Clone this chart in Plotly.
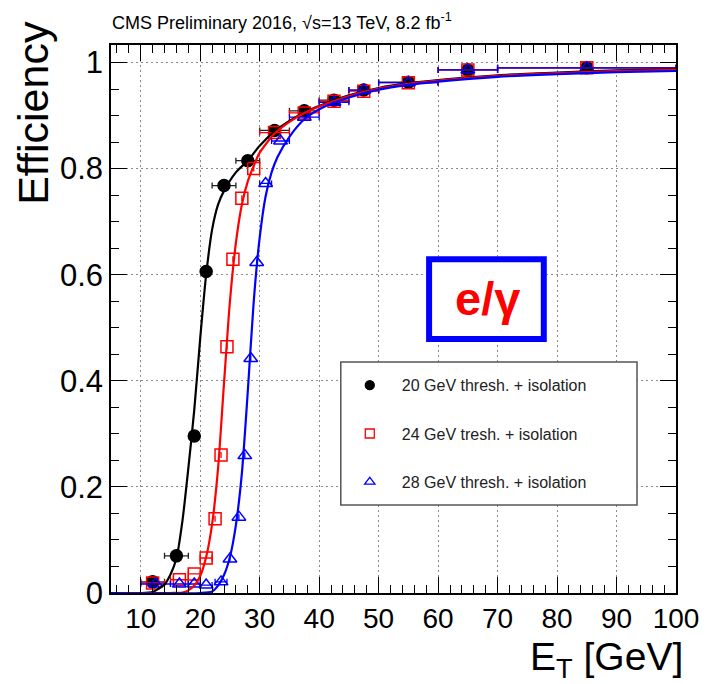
import plotly.graph_objects as go

# ---------------- data ----------------
# 20 GeV threshold + isolation (black)
x_20 = [12, 16, 19, 21, 24, 28, 32.5, 37.5, 42.5, 47.5, 55, 65, 85]
y_20 = [0.021, 0.07, 0.296, 0.606, 0.768, 0.815, 0.872, 0.909, 0.929, 0.948, 0.963, 0.986, 0.99]
xe_20 = [2, 2, 0, 0, 2, 2, 2.5, 2.5, 2.5, 2.5, 5, 5, 15]

# 24 GeV threshold + isolation (red)
x_24 = [12, 16.5, 19, 21, 22.5, 23.5, 24.5, 25.5, 27, 29, 32.5, 37.5, 42.5, 47.5, 55, 65, 85]
y_24 = [0.019, 0.025, 0.036, 0.066, 0.14, 0.26, 0.464, 0.629, 0.744, 0.8, 0.868, 0.905, 0.927, 0.946, 0.962, 0.986, 0.99]
xe_24 = [2, 1.5, 1, 1, 0, 0, 0, 0, 0, 0, 2.5, 2.5, 2.5, 2.5, 5, 5, 15]

# 28 GeV threshold + isolation (blue)
x_28 = [12.5, 16.5, 19, 21, 23.5, 25, 26.5, 27.5, 28.5, 29.5, 31, 33.5, 37.5, 42.5, 47.5, 55, 65, 85]
y_28 = [0.017, 0.017, 0.017, 0.015, 0.021, 0.064, 0.143, 0.259, 0.442, 0.623, 0.772, 0.852, 0.897, 0.925, 0.948, 0.962, 0.986, 0.99]
xe_28 = [2.5, 1.5, 1, 1, 1, 0, 0, 0, 0, 0, 1, 1.5, 2.5, 2.5, 2.5, 5, 5, 15]

# fitted turn-on curves
fx_20 = [5, 10, 12, 13, 14, 15, 16, 17, 18, 19, 20, 21, 22, 23, 24, 26, 28, 30, 32.5, 35, 37.5, 40, 45, 50, 55, 60, 70, 80, 90, 100]
fy_20 = [0.0, 0.0, 0.002, 0.008, 0.016, 0.035, 0.065, 0.135, 0.235, 0.345, 0.48, 0.6, 0.685, 0.732, 0.758, 0.793, 0.815, 0.843, 0.87, 0.89, 0.906, 0.918, 0.938, 0.952, 0.961, 0.967, 0.976, 0.981, 0.985, 0.987]

fx_24 = [5, 15, 17, 18, 19, 20, 21, 22, 23, 24, 25, 26, 27, 28, 29, 30, 32.5, 35, 37.5, 40, 45, 50, 55, 60, 70, 80, 90, 100]
fy_24 = [0.0, 0.0, 0.001, 0.005, 0.014, 0.032, 0.068, 0.13, 0.235, 0.395, 0.55, 0.66, 0.732, 0.776, 0.805, 0.83, 0.866, 0.888, 0.905, 0.917, 0.937, 0.951, 0.96, 0.966, 0.975, 0.98, 0.984, 0.986]

fx_28 = [5, 20, 22, 23, 24, 25, 26, 27, 28, 29, 30, 31, 32, 33, 35, 37.5, 40, 45, 50, 55, 60, 70, 80, 90, 100]
fy_28 = [0.0, 0.0, 0.003, 0.014, 0.034, 0.068, 0.128, 0.225, 0.38, 0.55, 0.67, 0.748, 0.793, 0.822, 0.86, 0.893, 0.912, 0.934, 0.949, 0.958, 0.964, 0.973, 0.978, 0.982, 0.984]

legend_labels = ["20 GeV thresh. + isolation", "24 GeV tresh. + isolation", "28 GeV thresh. + isolation"]

x_ticks = [10, 20, 30, 40, 50, 60, 70, 80, 90, 100]
y_ticks = [0, 0.2, 0.4, 0.6, 0.8, 1]
y_ticktext = ["0", "0.2", "0.4", "0.6", "0.8", "1"]

# ---------------- figure ----------------
FONT = "Liberation Sans, Arial, Helvetica, sans-serif"
BLACK, RED, BLUE = "#000000", "#ff0000", "#0000ff"

fig = go.Figure()

series = [
    (x_20, y_20, xe_20, BLACK, "circle", "#222222"),
    (x_24, y_24, xe_24, RED, "square-open", RED),
    (x_28, y_28, xe_28, BLUE, "triangle-up-open", BLUE),
]
for xs, ys, xe, col, sym, ecol in series:
    fig.add_trace(go.Scatter(
        x=xs, y=ys, mode="markers", showlegend=False,
        marker=dict(symbol=sym, size=12, color=col, line=dict(color=col, width=1.5)),
        error_x=dict(type="data", array=xe, color=ecol, thickness=1.3, width=3),
    ))

for fx, fy, col in [(fx_20, fy_20, BLACK), (fx_24, fy_24, RED), (fx_28, fy_28, BLUE)]:
    fig.add_trace(go.Scatter(
        x=fx, y=fy, mode="lines", showlegend=False,
        line=dict(color=col, width=2.2, shape="spline", smoothing=0.7),
    ))

# legend-only entries
for lab, col, sym in zip(legend_labels, [BLACK, RED, BLUE], ["circle", "square-open", "triangle-up-open"]):
    fig.add_trace(go.Scatter(
        x=[None], y=[None], mode="markers", name=lab, legendgroup=lab,
        marker=dict(symbol=sym, size=9, color=col, line=dict(color=col, width=1.3)),
    ))

axis_common = dict(
    showline=True, linecolor="black", linewidth=1.5, mirror="ticks",
    ticks="inside", ticklen=16, tickwidth=1.3, tickcolor="black",
    showgrid=True, gridcolor="#8a8a8a", gridwidth=1, griddash="2px,3px",
    zeroline=False,
)

fig.update_xaxes(
    range=[5, 100], tickmode="array", tickvals=x_ticks,
    tickfont=dict(family=FONT, size=28, color="black"),
    minor=dict(dtick=2, tick0=0, ticks="inside", ticklen=8, tickwidth=1.2, tickcolor="black", showgrid=False),
    **axis_common,
)
fig.update_yaxes(
    range=[0, 1.033], tickmode="array", tickvals=y_ticks, ticktext=y_ticktext,
    tickfont=dict(family=FONT, size=31, color="black"),
    minor=dict(dtick=0.05, tick0=0, ticks="inside", ticklen=8, tickwidth=1.2, tickcolor="black", showgrid=False),
    **axis_common,
)

fig.update_layout(
    width=711, height=684,
    margin=dict(l=111, r=31, t=45, b=91),
    plot_bgcolor="white", paper_bgcolor="white",
    font=dict(family=FONT, color="black"),
    legend=dict(
        x=0.4014, y=0.410, xanchor="left", yanchor="top",
        bgcolor="rgba(0,0,0,0)", borderwidth=0,
        font=dict(family=FONT, size=16, color="#222"),
        tracegroupgap=24.5, itemwidth=54,
    ),
    shapes=[
        # legend frame
        dict(type="rect", xref="paper", yref="paper", x0=0.4067, x1=0.931, y0=0.1606, y1=0.4215,
             line=dict(color="#555555", width=1.5), fillcolor="white", layer="above"),
        # e/gamma box
        dict(type="rect", xref="paper", yref="paper", x0=0.563, x1=0.766, y0=0.4635, y1=0.609,
             line=dict(color=BLUE, width=6), fillcolor="white", layer="above"),
    ],
    annotations=[
        dict(text="CMS Preliminary 2016, &#8730;s=13 TeV, 8.2 fb<sup>-1</sup>", xref="paper", yref="paper",
             x=-0.002, y=1.042, xanchor="left", yanchor="middle", showarrow=False,
             font=dict(family=FONT, size=18, color="black")),
        dict(text="Efficiency", xref="paper", yref="paper", textangle=-90,
             x=-0.137, y=1.047, xanchor="center", yanchor="top", showarrow=False,
             font=dict(family=FONT, size=43, color="black")),
        dict(text="E<sub>T</sub> [GeV]", xref="paper", yref="paper",
             x=1.016, y=-0.122, xanchor="right", yanchor="middle", showarrow=False,
             font=dict(family=FONT, size=39, color="black")),
        dict(text="<b>e/γ</b>", xref="paper", yref="paper",
             x=0.667, y=0.537, xanchor="center", yanchor="middle", showarrow=False,
             font=dict(family=FONT, size=47, color=RED)),
    ],
)

fig.write_html("out.html")
